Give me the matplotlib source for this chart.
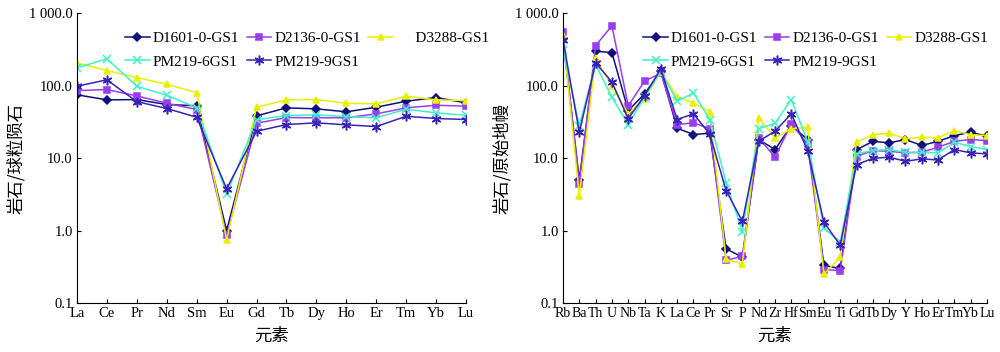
import numpy as np
import matplotlib
matplotlib.use('Agg')
import matplotlib.pyplot as plt
from matplotlib.ticker import FixedLocator, FixedFormatter, NullLocator

plt.rcParams['font.family'] = ['Liberation Serif', 'Noto Sans CJK SC']

samples = ['D1601-0-GS1', 'D2136-0-GS1', 'D3288-GS1', 'PM219-6GS1', 'PM219-9GS1']
colors = ['#10107a', '#9a3cf0', '#e8f000', '#40f0c8', '#3a22b8']
markers = ['D', 's', '^', 'x', (6, 2, 0)]
msizes = [4, 5, 5, 6, 7]

# 稀土元素
ree = ['La', 'Ce', 'Pr', 'Nd', 'Sm', 'Eu', 'Gd', 'Tb', 'Dy', 'Ho', 'Er', 'Tm', 'Yb', 'Lu']
ree_d1601 = [74.5, 63.5, 64, 54.7, 52.6, 1.0, 38.2, 49.2, 47.7, 43.4, 50.2, 60.8, 68.3, 57.7]
ree_d2136 = [85.3, 88, 72, 57, 46.7, 0.86, 30.2, 36.2, 35.9, 35.9, 40.7, 49.2, 53.5, 51.9]
ree_d3288 = [205, 161, 129, 104, 80, 0.74, 50, 63.5, 64, 57, 55.9, 71.2, 63.5, 62]
ree_pm6 = [175, 234, 97.8, 73.6, 49.2, 3.2, 33.7, 38.6, 39.4, 37.3, 35.9, 47.1, 42, 38.9]
ree_pm9 = [97.8, 120, 60, 48.2, 36.6, 3.76, 23.4, 29, 30.6, 28.7, 27.2, 37.7, 35.1, 34]

# 微量元素
trace = ['Rb', 'Ba', 'Th', 'U', 'Nb', 'Ta', 'K', 'La', 'Ce', 'Pr', 'Sr', 'P', 'Nd', 'Zr',
         'Hf', 'Sm', 'Eu', 'Ti', 'Gd', 'Tb', 'Dy', 'Y', 'Ho', 'Er', 'Tm', 'Yb', 'Lu']
tr_d1601 = [441, 5.0, 297, 285, 45, 77, 157, 25.8, 21.1, 22, 0.56, 0.43, 18, 13.1,
            28, 18, 0.33, 0.30, 13, 17, 16.2, 18, 14.9, 17, 20.4, 22.7, 20]
tr_d2136 = [543, 4.4, 356, 666, 52.5, 115, 148, 29, 30.6, 25.3, 0.39, 0.44, 19, 10.3,
            29.6, 15.7, 0.29, 0.28, 10.5, 12.7, 12.4, 11.8, 12, 14.1, 17, 18, 17.4]
tr_d3288 = [490, 3.0, 240, 97, 40.7, 65.6, 155, 70.5, 57, 43.8, 0.40, 0.35, 35.8, 19,
            25.3, 26.6, 0.25, 0.43, 16.5, 21, 22, 18.4, 19.4, 19, 23.9, 21, 20.4]
tr_pm6 = [314, 28, 195, 69, 29, 69, 157, 60.8, 79, 34, 4.6, 0.97, 25.3, 30.2,
          64, 16.9, 1.08, 0.69, 11.4, 12.7, 13.1, 12, 12, 11.8, 16.5, 14.4, 13.1]
tr_pm9 = [426, 22.7, 206, 112, 34.8, 72.8, 170, 34, 40.7, 21.5, 3.56, 1.34, 17.1, 23.4,
          40.7, 12.7, 1.3, 0.63, 8.1, 9.9, 10.3, 9.0, 9.75, 9.4, 13.1, 11.8, 11.4]

ree_data = [ree_d1601, ree_d2136, ree_d3288, ree_pm6, ree_pm9]
tr_data = [tr_d1601, tr_d2136, tr_d3288, tr_pm6, tr_pm9]

yticks = [0.1, 1, 10, 100, 1000]
ylabels = ['0.1', '1.0', '10.0', '100.0', '1 000.0']


def draw(ax, names, data, ylabel, legend_x, legend_names, xfs):
    x = np.arange(len(names))
    handles = []
    for vals, name, c, m, ms in zip(data, samples, colors, markers, msizes):
        h, = ax.plot(x, vals, color=c, marker=m, markersize=ms, lw=1.1,
                     markeredgewidth=1.1, label=name)
        handles.append(h)
    ax.set_yscale('log')
    ax.set_ylim(0.1, 1000)
    ax.set_xlim(0, len(names) - 1)
    ax.yaxis.set_major_locator(FixedLocator(yticks))
    ax.yaxis.set_major_formatter(FixedFormatter(ylabels))
    ax.yaxis.set_minor_locator(NullLocator())
    ax.set_xticks(x)
    ax.set_xticklabels(names, fontsize=xfs)
    ax.tick_params(direction='in', length=3, labelsize=10.5, pad=3)
    ax.tick_params(axis='x', labelsize=xfs)
    ax.spines['top'].set_visible(False)
    ax.spines['right'].set_visible(False)
    ax.set_xlabel('元素', fontsize=12.5, family=['Noto Sans CJK SC'], labelpad=5)
    ax.set_ylabel(ylabel, fontsize=12.5, family=['Noto Sans CJK SC'], labelpad=3)
    order = [0, 3, 1, 4, 2]
    ax.legend([handles[i] for i in order], [legend_names[i] for i in order], ncol=3,
              frameon=False, fontsize=11, loc='upper left',
              bbox_to_anchor=(legend_x, 0.958), handlelength=1.6, handletextpad=0.2,
              columnspacing=0.5, labelspacing=0.65, borderaxespad=0)


fig = plt.figure(figsize=(10, 3.52), dpi=100)
ax1 = fig.add_axes([0.077, 0.139, 0.389, 0.824])
ax2 = fig.add_axes([0.563, 0.139, 0.424, 0.824])

left_names = samples[:2] + ['     ' + samples[2]] + samples[3:]
draw(ax1, ree, ree_data, '岩石/球粒陨石', 0.108, left_names, 10.5)
draw(ax2, trace, tr_data, '岩石/原始地幔', 0.175, samples, 10)

fig.savefig('out.png', dpi=100)
